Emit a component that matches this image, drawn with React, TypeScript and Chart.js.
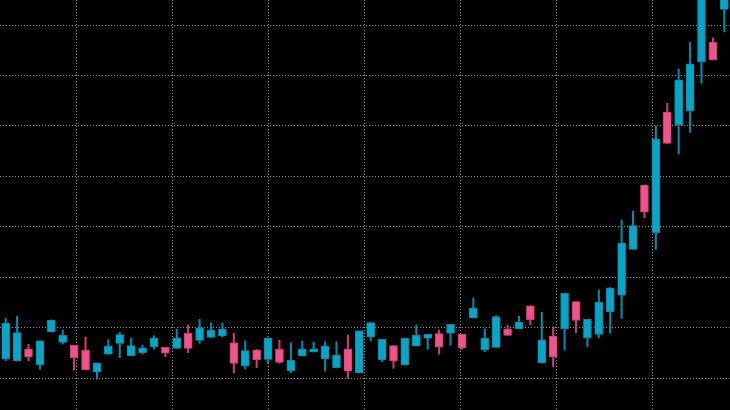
import React, { useEffect, useRef } from "react";
import { Chart, registerables } from "chart.js";

Chart.register(...registerables);

const labels: string[] = Array.from({ length: 64 }, (_, i) => String(i + 1));

const openV = [
  103.82, 103.49, 105.86, 102.64, 109.17, 107.13, 106.54, 105.61, 101.25, 104.76,
  106.93, 104.48, 105.07, 106.2, 106.14, 105.94, 108.92, 107.53, 108.12, 108.44,
  107.05, 102.5, 105.55, 103.76, 105.75, 101.51, 104.42, 105.21, 103.82, 102.1,
  105.75, 101.11, 108.18, 103.69, 106.46, 102.64, 106.4, 107.93, 108.84, 108.92,
  108.72, 111.95, 105.61, 106.14, 109.77, 109.83, 114.38, 103.03, 108.38, 109.83,
  115.18, 108.04, 108.72, 113.2, 116.45, 125.56, 138.3, 128.85, 152.7, 150.25,
  153.02, 162.73, 166.63, 173.11,
];
const highV = [
  111.89, 112.34, 106.74, 107.45, 111.55, 109.51, 106.54, 108.18, 103.03, 107.65,
  109.11, 107.98, 106.54, 108.44, 106.14, 109.71, 110.56, 111.69, 110.96, 110.96,
  108.92, 107.45, 105.75, 107.98, 107.53, 107.05, 107.39, 107.19, 107.25, 107.25,
  108.58, 109.43, 111.02, 107.73, 106.46, 107.93, 110.56, 108.72, 109.57, 110.7,
  108.72, 115.91, 109.77, 112.4, 110.5, 112.28, 114.38, 113.08, 110.22, 116.84,
  115.18, 111.69, 117.5, 117.95, 131.37, 133.09, 138.3, 149.99, 154.49, 161.28,
  166.57, 177.5, 167.43, 181.0,
];
const lowV = [
  103.49, 103.4, 103.49, 101.78, 109.17, 106.8, 101.64, 101.64, 99.8, 104.76,
  104.08, 104.48, 104.76, 105.75, 104.28, 105.94, 105.07, 106.93, 108.12, 108.18,
  101.05, 101.84, 102.1, 102.89, 102.97, 101.11, 104.42, 105.21, 101.39, 102.1,
  100.0, 101.11, 107.39, 103.29, 101.98, 102.64, 106.4, 105.75, 104.81, 106.54,
  105.75, 111.95, 105.27, 106.14, 108.52, 109.83, 110.62, 103.03, 102.3, 105.61,
  109.04, 106.26, 108.04, 108.92, 111.89, 125.56, 131.82, 125.56, 146.56, 144.44,
  148.74, 158.45, 163.07, 168.62,
];
const closeV = [
  110.9, 109.04, 104.28, 107.45, 111.55, 108.52, 104.08, 101.64, 103.03, 106.4,
  108.64, 106.46, 106.06, 107.93, 105.01, 108.04, 105.94, 109.97, 109.51, 109.77,
  102.97, 105.47, 103.69, 107.98, 103.17, 103.57, 105.81, 105.86, 106.4, 104.56,
  101.39, 109.43, 111.02, 107.73, 103.43, 107.93, 108.52, 108.72, 106.26, 110.7,
  106.06, 113.87, 107.93, 112.21, 108.52, 111.1, 111.61, 107.59, 104.22, 116.84,
  111.49, 111.69, 115.06, 117.95, 126.81, 130.24, 132.95, 147.36, 146.56, 159.1,
  162.33, 176.5, 163.07, 180.0,
];

// horizontal price grid levels and vertical time grid positions (in candle-index units)
const priceGrid = [100, 110, 120, 130, 140, 150, 160, 170];
const timeGrid = [6.22, 14.63, 23.05, 31.47, 39.89, 48.31, 56.72];
const yMin = 93.72;
const yMax = 174.96;

const UP = "rgb(8,166,198)";
const UP_EDGE = "rgb(4,140,170)";
const DOWN = "rgb(240,82,140)";
const DOWN_EDGE = "rgb(205,62,115)";

export default function App() {
  const ref = useRef<HTMLCanvasElement | null>(null);

  useEffect(() => {
    if (!ref.current) return;
    const isUp = openV.map((o, i) => closeV[i] >= o);
    const fill = isUp.map((u) => (u ? UP : DOWN));
    const edge = isUp.map((u) => (u ? UP_EDGE : DOWN_EDGE));
    const gridColor = "rgba(160,160,160,0.9)";

    const chart = new Chart(ref.current, {
      type: "bar",
      data: {
        labels,
        datasets: [
          {
            label: "body",
            data: openV.map((o, i) => [o, closeV[i]]) as any,
            backgroundColor: fill,
            borderColor: edge,
            borderWidth: 1,
            borderSkipped: false,
            barThickness: 8,
            grouped: false,
            order: 0,
            xAxisID: "x",
            yAxisID: "y",
          } as any,
          {
            label: "wick",
            data: lowV.map((l, i) => [l, highV[i]]) as any,
            backgroundColor: edge,
            borderWidth: 0,
            barThickness: 1.4,
            grouped: false,
            order: 1,
            xAxisID: "x",
            yAxisID: "y",
          } as any,
        ],
      },
      options: {
        responsive: false,
        animation: false,
        layout: { padding: 0 },
        plugins: {
          legend: { display: false },
          tooltip: { enabled: false },
        },
        scales: {
          x: {
            type: "category",
            display: false,
            offset: true,
            grid: { display: false },
          },
          xg: {
            type: "linear",
            position: "bottom",
            min: -0.5,
            max: 63.5,
            offset: false,
            display: true,
            afterBuildTicks: (scale: any) => {
              scale.ticks = timeGrid.map((v) => ({ value: v }));
            },
            ticks: { display: false },
            border: { display: false, dash: [1, 2] },
            grid: {
              offset: false,
              drawTicks: false,
              color: gridColor,
              lineWidth: 1,
            },
          } as any,
          y: {
            type: "linear",
            min: yMin,
            max: yMax,
            display: true,
            afterBuildTicks: (scale: any) => {
              scale.ticks = priceGrid.map((v) => ({ value: v }));
            },
            ticks: { display: false },
            border: { display: false, dash: [1, 2] },
            grid: {
              drawTicks: false,
              color: gridColor,
              lineWidth: 1,
            },
          } as any,
        },
      },
      plugins: [
        {
          id: "blackBg",
          beforeDraw: (c: any) => {
            const ctx = c.ctx;
            ctx.save();
            ctx.fillStyle = "#000";
            ctx.fillRect(0, 0, c.width, c.height);
            ctx.restore();
          },
        },
      ],
    } as any);

    return () => chart.destroy();
  }, []);

  return (
    <div style={{ position: "fixed", left: 0, top: 0, width: 730, height: 410, background: "#000" }}>
      <canvas ref={ref} width={730} height={410} style={{ display: "block" }} />
    </div>
  );
}
